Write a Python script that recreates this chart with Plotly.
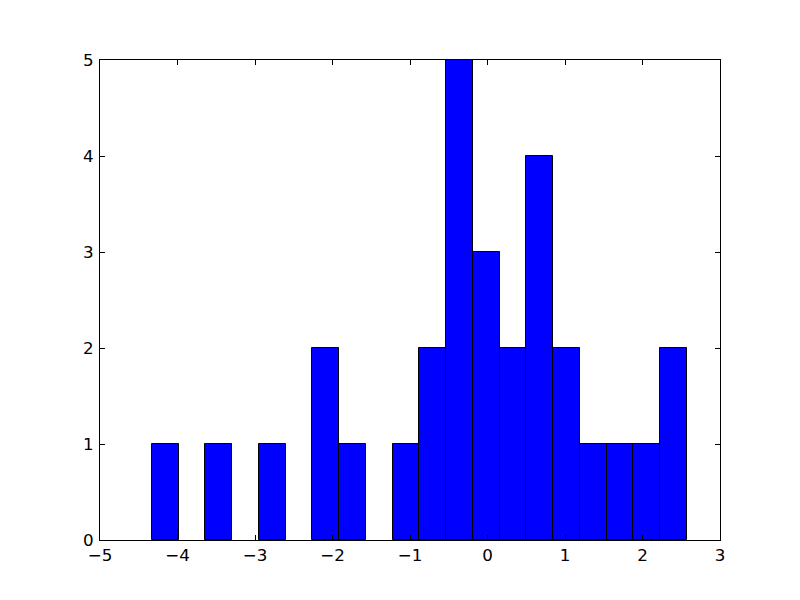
import plotly.graph_objects as go

bin_start = -4.329
bin_width = 0.345
counts = [1, 0, 1, 0, 1, 0, 2, 1, 0, 1, 2, 5, 3, 2, 4, 2, 1, 1, 1, 2]
x_ticks = [-5, -4, -3, -2, -1, 0, 1, 2, 3]
y_ticks = [0, 1, 2, 3, 4, 5]

centers = [bin_start + bin_width * (i + 0.5) for i in range(len(counts))]
shown = [c if c > 0 else None for c in counts]

fig = go.Figure(go.Bar(
    x=centers, y=shown, width=[bin_width] * len(counts),
    marker=dict(color="#0000ff", line=dict(color="black", width=1)),
))

axis_common = dict(
    showgrid=False, zeroline=False, showline=True, linecolor="black", linewidth=1.2,
    mirror="ticks", ticks="inside", ticklen=5, tickcolor="black", tickwidth=1,
    tickfont=dict(family="DejaVu Sans", size=16.7, color="black"),
)

fig.update_layout(
    width=800, height=600,
    margin=dict(l=92, r=88, t=52, b=68),
    paper_bgcolor="white", plot_bgcolor="white",
    showlegend=False, bargap=0,
    xaxis=dict(range=[-5, 3], tickvals=x_ticks, ticklabelstandoff=0, **axis_common),
    yaxis=dict(range=[0, 5], tickvals=y_ticks, ticklabelstandoff=2, **axis_common),
)

fig.write_html("out.html")
